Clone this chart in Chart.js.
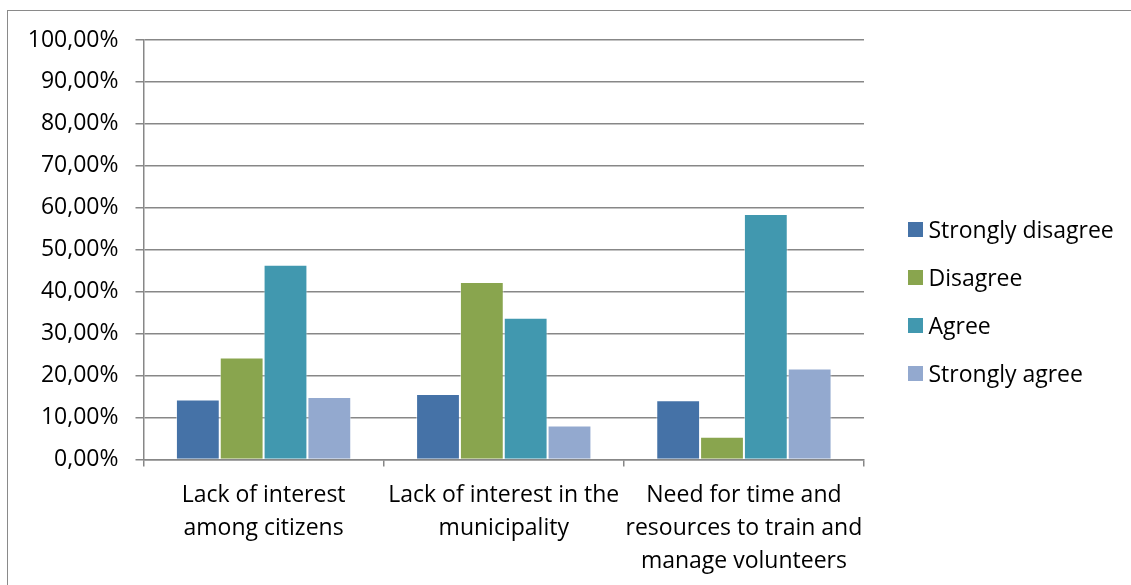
<!DOCTYPE html>
<html>
<head>
<meta charset="utf-8">
<script src="https://cdn.jsdelivr.net/npm/chart.js@4/dist/chart.umd.min.js"></script>
<style>
  html, body { margin: 0; padding: 0; background: #fff; overflow: hidden; }
  #frame { position: absolute; left: 7px; top: 10px; width: 1200px; height: 700px;
           border-left: 1.5px solid #8a8a8a; border-top: 1.5px solid #8a8a8a; }
  #chart { position: absolute; left: 0; top: 0; }
  #legend { position: absolute; left: 908px; top: 204.6px; margin: 0; padding: 0; list-style: none;
            font-family: 'Open Sans', sans-serif; font-size: 23px; color: #000; }
  #legend li { height: 48px; line-height: 48px; white-space: nowrap; }
  #legend span { display: inline-block; width: 14.5px; height: 14.5px; margin-right: 6px;
                 vertical-align: middle; position: relative; top: -2px; }
</style>
</head>
<body>
<div id="frame"></div>
<canvas id="chart" width="1131" height="585"></canvas>
<ul id="legend"></ul>
<script>
const categories = [
  ["Lack of interest", "among citizens"],
  ["Lack of interest in the", "municipality"],
  ["Need for time and", "resources to train and", "manage volunteers"]
];
const stronglyDisagree = [0.143, 0.156, 0.141];
const disagree = [0.243, 0.423, 0.054];
const agree = [0.464, 0.338, 0.585];
const stronglyAgree = [0.149, 0.081, 0.217];
const yTicks = [0, 0.1, 0.2, 0.3, 0.4, 0.5, 0.6, 0.7, 0.8, 0.9, 1];

const FONT = { family: "'Open Sans', sans-serif", size: 23 };
const GRID = "#878787";

function pct(v) {
  return (v * 100).toFixed(2).replace(".", ",") + "%";
}

document.addEventListener("DOMContentLoaded", function () {
  const ctx = document.getElementById("chart").getContext("2d");
  const chart = new Chart(ctx, {
    type: "bar",
    data: {
      labels: categories,
      datasets: [
        { label: "Strongly disagree", data: stronglyDisagree, backgroundColor: "#4572A7" },
        { label: "Disagree", data: disagree, backgroundColor: "#89A54E" },
        { label: "Agree", data: agree, backgroundColor: "#4198AF" },
        { label: "Strongly agree", data: stronglyAgree, backgroundColor: "#93A9CF" }
      ]
    },
    options: {
      responsive: false,
      animation: false,
      layout: { padding: { top: 40, bottom: 0, left: 0, right: 267 } },
      datasets: {
        bar: {
          categoryPercentage: 0.73,
          barPercentage: 1,
          borderWidth: 1,
          borderColor: "rgba(255,255,255,0.5)"
        }
      },
      plugins: {
        legend: { display: false },
        tooltip: { enabled: false }
      },
      scales: {
        x: {
          grid: {
            offset: true,
            drawOnChartArea: false,
            drawTicks: true,
            tickLength: 7,
            color: GRID,
            lineWidth: 1.5
          },
          border: { color: GRID, width: 1.5 },
          ticks: {
            color: "#000",
            font: Object.assign({ lineHeight: 1.44 }, FONT),
            padding: 12,
            maxRotation: 0,
            minRotation: 0,
            autoSkip: false
          },
          afterFit: function (scale) { scale.height = 125.5; }
        },
        y: {
          min: 0,
          max: 1,
          afterBuildTicks: function (scale) {
            scale.ticks = yTicks.map(function (v) { return { value: v }; });
          },
          grid: { color: GRID, lineWidth: 1.5, tickLength: 8 },
          border: { color: GRID, width: 1.5 },
          ticks: {
            color: "#000",
            font: FONT,
            padding: 17,
            callback: function (v) { return pct(v); }
          },
          afterFit: function (scale) { scale.width = 143.5; }
        }
      }
    }
  });

  // legend built from the chart's datasets
  const ul = document.getElementById("legend");
  chart.data.datasets.forEach(function (ds) {
    const li = document.createElement("li");
    const box = document.createElement("span");
    box.style.background = ds.backgroundColor;
    li.appendChild(box);
    li.appendChild(document.createTextNode(ds.label));
    ul.appendChild(li);
  });
});
</script>
</body>
</html>
